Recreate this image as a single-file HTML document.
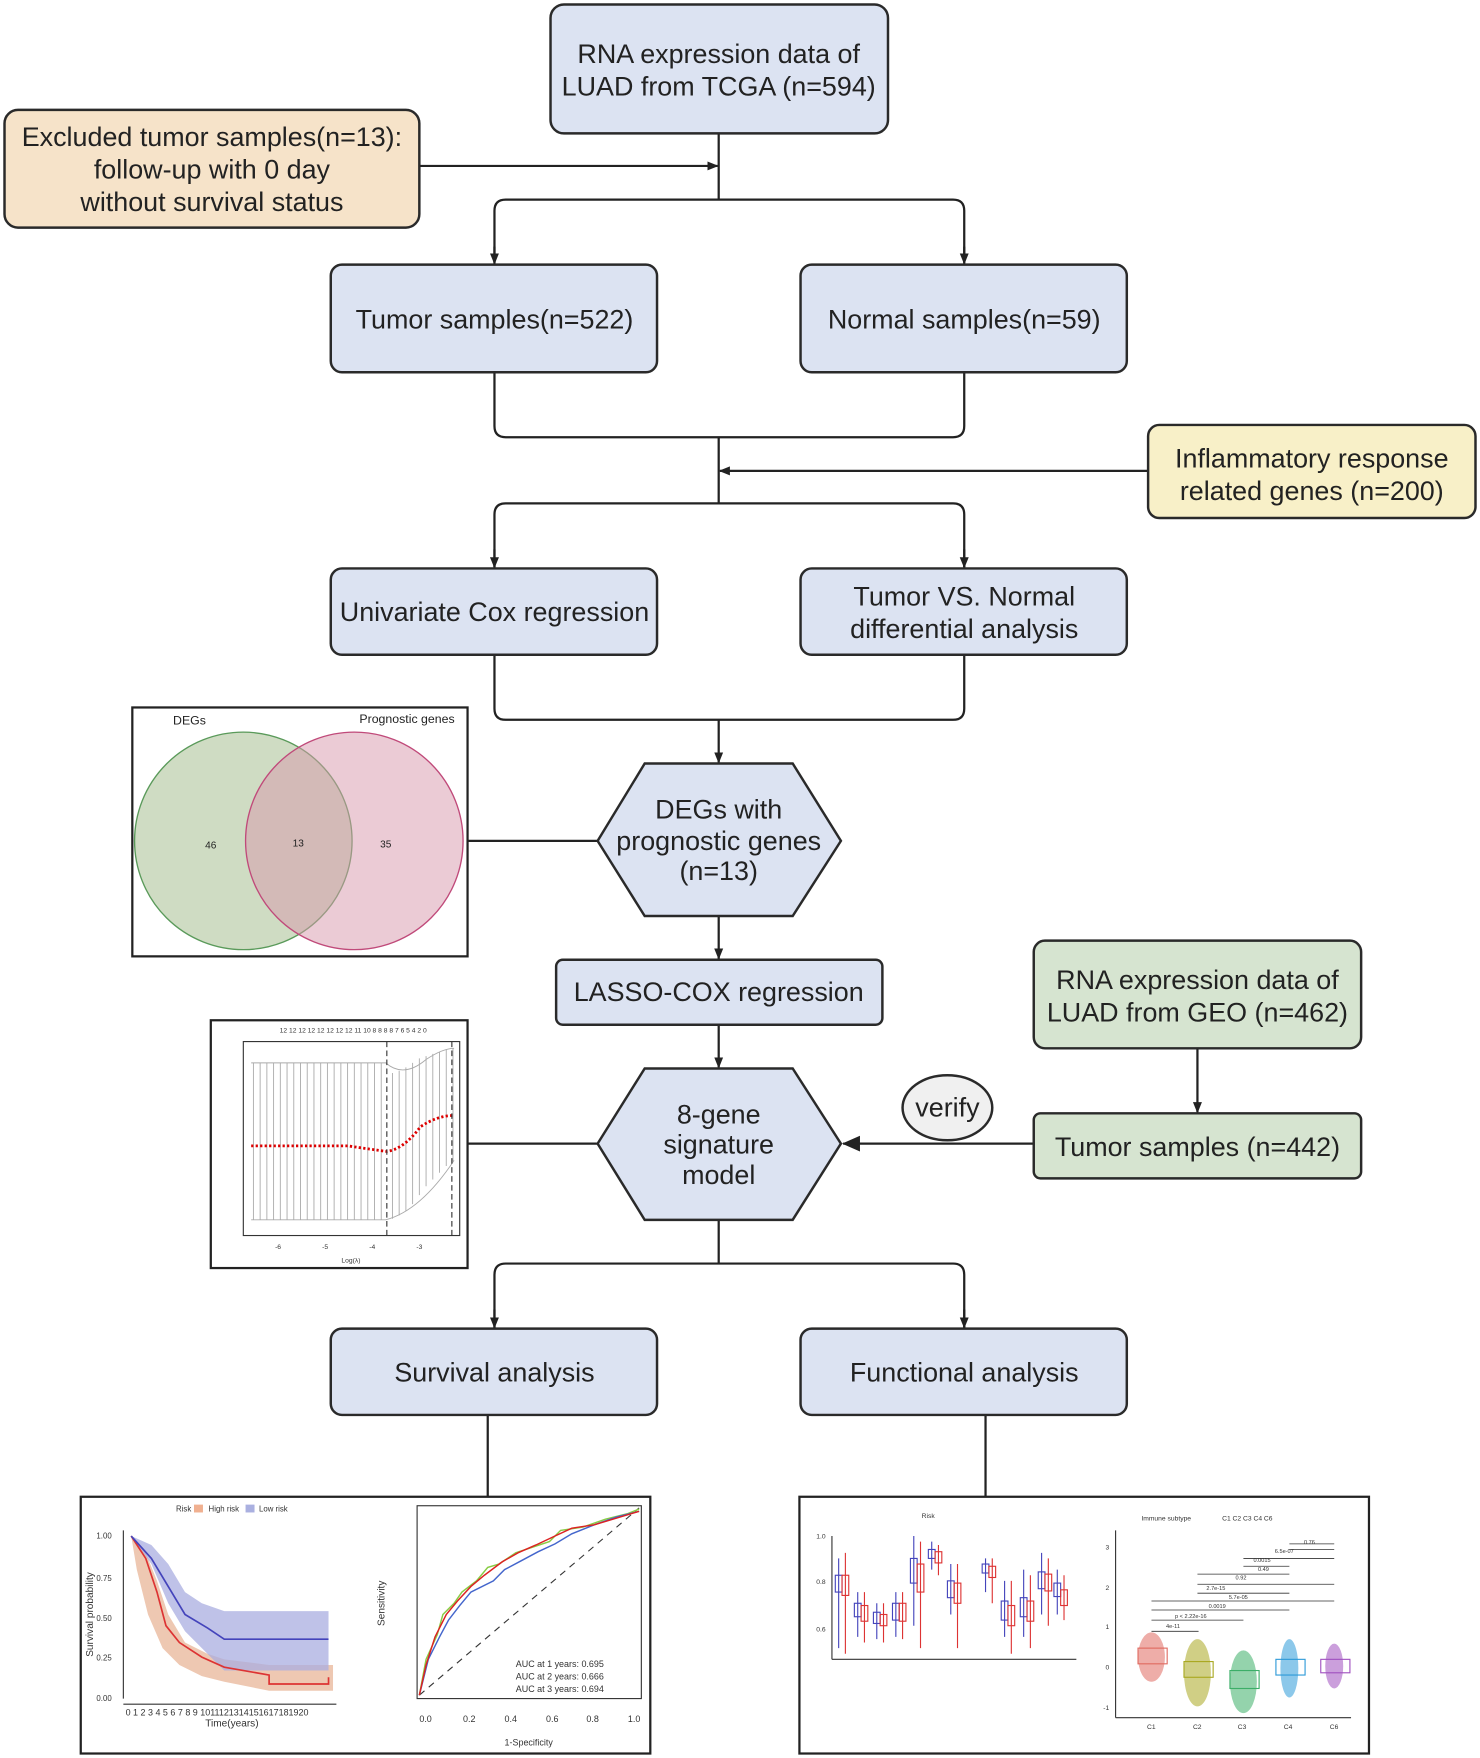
<!DOCTYPE html>
<html><head><meta charset="utf-8"><style>
html,body{margin:0;padding:0;background:#fff;}
svg{display:block;}
text{font-family:"Liberation Sans",sans-serif;}
</style></head><body>
<svg width="1480" height="1758" viewBox="0 0 1320 1568" xmlns="http://www.w3.org/2000/svg">
<defs>
<marker id="a" markerWidth="10" markerHeight="10" refX="9" refY="5" orient="auto" markerUnits="userSpaceOnUse"><path d="M0,1 L10,5 L0,9 Z" fill="#222"/></marker>
<marker id="b" markerWidth="16" markerHeight="16" refX="15" refY="8" orient="auto" markerUnits="userSpaceOnUse"><path d="M0,1 L16,8 L0,15 Z" fill="#222"/></marker>
</defs>
<rect width="1320" height="1568" fill="#fff"/>
<g stroke="#222" stroke-width="2" fill="none">
<line x1="641" y1="119" x2="641" y2="178"/>
<line x1="374" y1="148" x2="640" y2="148" marker-end="url(#a)"/>
<path d="M441,234 V188 Q441,178 451,178 H850 Q860,178 860,188 V234" />
<line x1="441" y1="220" x2="441" y2="235" marker-end="url(#a)"/>
<line x1="860" y1="220" x2="860" y2="235" marker-end="url(#a)"/>
<path d="M441,332 V380 Q441,390 451,390 H850 Q860,390 860,380 V332"/>
<line x1="641" y1="390" x2="641" y2="449"/>
<line x1="1024" y1="420" x2="642" y2="420" marker-end="url(#a)"/>
<path d="M441,506 V459 Q441,449 451,449 H850 Q860,449 860,459 V506"/>
<line x1="441" y1="490" x2="441" y2="506" marker-end="url(#a)"/>
<line x1="860" y1="490" x2="860" y2="506" marker-end="url(#a)"/>
<path d="M441,584 V632 Q441,642 451,642 H850 Q860,642 860,632 V584"/>
<line x1="641" y1="642" x2="641" y2="680" marker-end="url(#a)"/>
<line x1="417" y1="750" x2="533" y2="750"/>
<line x1="641" y1="817" x2="641" y2="855" marker-end="url(#a)"/>
<line x1="641" y1="914" x2="641" y2="952" marker-end="url(#a)"/>
<line x1="417" y1="1020" x2="533" y2="1020"/>
<line x1="1068" y1="935" x2="1068" y2="992" marker-end="url(#a)"/>
<line x1="922" y1="1020" x2="752" y2="1020" marker-end="url(#b)"/>
<line x1="641" y1="1088" x2="641" y2="1127"/>
<path d="M441,1184 V1137 Q441,1127 451,1127 H850 Q860,1127 860,1137 V1184"/>
<line x1="441" y1="1168" x2="441" y2="1184" marker-end="url(#a)"/>
<line x1="860" y1="1168" x2="860" y2="1184" marker-end="url(#a)"/>
<line x1="435" y1="1262" x2="435" y2="1335"/>
<line x1="879" y1="1262" x2="879" y2="1335"/>
</g>
<g stroke="#2a2a2a" stroke-width="2.2">
<rect x="491" y="4" width="301" height="115" rx="12" fill="#dce3f2"/>
<rect x="4" y="98" width="370" height="105" rx="12" fill="#f6e3c9"/>
<rect x="295" y="236" width="291" height="96" rx="10" fill="#dce3f2"/>
<rect x="714" y="236" width="291" height="96" rx="10" fill="#dce3f2"/>
<rect x="1024" y="379" width="292" height="83" rx="10" fill="#f8f0c8"/>
<rect x="295" y="507" width="291" height="77" rx="10" fill="#dce3f2"/>
<rect x="714" y="507" width="291" height="77" rx="10" fill="#dce3f2"/>
<polygon points="533,750 575,681 707,681 750,750 707,817 575,817" fill="#dce3f2"/>
<rect x="496" y="856" width="291" height="58" rx="6" fill="#dce3f2"/>
<polygon points="533,1020 575,953 707,953 750,1020 707,1088 575,1088" fill="#dce3f2"/>
<rect x="922" y="839" width="292" height="96" rx="10" fill="#d6e4d0"/>
<rect x="922" y="993" width="292" height="58" rx="6" fill="#d6e4d0"/>
<ellipse cx="845" cy="988" rx="40" ry="29" fill="#f0f0f0"/>
<rect x="295" y="1185" width="291" height="77" rx="10" fill="#dce3f2"/>
<rect x="714" y="1185" width="291" height="77" rx="10" fill="#dce3f2"/>
</g>
<g fill="#222" font-size="24" text-anchor="middle">
<text x="641" y="56">RNA expression data of</text>
<text x="641" y="85">LUAD from TCGA (n=594)</text>
<text x="189" y="130">Excluded tumor samples(n=13):</text>
<text x="189" y="159">follow-up with 0 day</text>
<text x="189" y="188">without survival status</text>
<text x="441" y="293">Tumor samples(n=522)</text>
<text x="860" y="293">Normal samples(n=59)</text>
<text x="1170" y="417">Inflammatory response</text>
<text x="1170" y="446">related genes (n=200)</text>
<text x="441" y="554">Univariate Cox regression</text>
<text x="860" y="540">Tumor VS. Normal</text>
<text x="860" y="569">differential analysis</text>
<text x="641" y="730">DEGs with</text>
<text x="641" y="758">prognostic genes</text>
<text x="641" y="785">(n=13)</text>
<text x="641" y="893">LASSO-COX regression</text>
<text x="641" y="1002">8-gene</text>
<text x="641" y="1029">signature</text>
<text x="641" y="1056">model</text>
<text x="1068" y="882">RNA expression data of</text>
<text x="1068" y="911">LUAD from GEO (n=462)</text>
<text x="1068" y="1031">Tumor samples (n=442)</text>
<text x="845" y="996">verify</text>
<text x="441" y="1232">Survival analysis</text>
<text x="860" y="1232">Functional analysis</text>
</g>
<!-- Venn -->
<rect x="118" y="631" width="299" height="222" fill="#fff" stroke="#222" stroke-width="2"/>
<circle cx="217" cy="750" r="97" fill="#a7c091" fill-opacity="0.55" stroke="#5a9a5a" stroke-width="1.2"/>
<circle cx="316" cy="750" r="97" fill="#d898ac" fill-opacity="0.5" stroke="#c04a7a" stroke-width="1.2"/>
<g font-size="11" fill="#222" text-anchor="middle">
<text x="169" y="646">DEGs</text><text x="363" y="645">Prognostic genes</text>
<text x="188" y="757" font-size="9">46</text><text x="266" y="755" font-size="9">13</text><text x="344" y="756" font-size="9">35</text>
</g>
<!-- LASSO plot -->
<rect x="188" y="910" width="229" height="221" fill="#fff" stroke="#222" stroke-width="2"/>
<rect x="217" y="929" width="193" height="173" fill="none" stroke="#333" stroke-width="1"/>
<g stroke="#aaa" stroke-width="0.8" fill="none">
<path d="M224,948 H344 Q360,962 380,945 Q395,935 405,935"/>
<path d="M224,1088 H344 Q375,1080 405,1035"/>
<path d="M226,948V1088 M232,948V1088 M238,948V1088 M244,948V1088 M250,948V1088 M256,948V1088 M262,948V1088 M268,948V1088 M274,948V1088 M280,948V1088 M286,948V1088 M292,948V1088 M298,948V1088 M304,948V1088 M310,948V1088 M316,948V1088 M322,948V1088 M328,948V1088 M334,948V1088 M340,948V1088 M350,957V1087 M356,955V1084 M362,952V1080 M368,948V1074 M374,944V1066 M380,942V1058 M386,940V1052 M392,938V1046 M398,936V1040 M404,935V1036"/>
</g>
<path d="M224,1022 H310 Q330,1025 345,1027 Q360,1025 375,1005 Q390,995 404,995" stroke="#d00" stroke-width="2.5" stroke-dasharray="2,2" fill="none"/>
<line x1="345" y1="929" x2="345" y2="1102" stroke="#333" stroke-dasharray="5,3" stroke-width="1"/>
<line x1="403" y1="929" x2="403" y2="1102" stroke="#333" stroke-dasharray="5,3" stroke-width="1"/>
<g font-size="6" fill="#333" text-anchor="middle">
<text x="315" y="921">12 12 12 12 12 12 12 12 11 10 8 8 8 8 7 6 5 4 2 0</text>
<text x="248" y="1114">-6</text><text x="290" y="1114">-5</text><text x="332" y="1114">-4</text><text x="374" y="1114">-3</text>
<text x="313" y="1126">Log(λ)</text>
</g>
<!-- Survival panel -->
<rect x="72" y="1335" width="508" height="229" fill="#fff" stroke="#222" stroke-width="2"/>
<g font-size="7" fill="#333">
<text x="157" y="1348">Risk</text><rect x="173" y="1342" width="8" height="7" fill="#f0b090"/><text x="186" y="1348">High risk</text>
<rect x="219" y="1342" width="8" height="7" fill="#aab0e0"/><text x="231" y="1348">Low risk</text>
<text x="86" y="1372">1.00</text><text x="86" y="1410">0.75</text><text x="86" y="1446">0.50</text><text x="86" y="1481">0.25</text><text x="86" y="1517">0.00</text>
<text x="112" y="1530" font-size="8">0 1 2 3 4 5 6 7 8 9 1011121314151617181920</text>
<text x="183" y="1540" font-size="9">Time(years)</text>
</g>
<text x="83" y="1440" font-size="9" fill="#333" transform="rotate(-90 83 1440)" text-anchor="middle">Survival probability</text>
<line x1="110" y1="1365" x2="110" y2="1515" stroke="#333"/><line x1="110" y1="1520" x2="300" y2="1520" stroke="#333"/>
<path d="M117,1370 L130,1385 L140,1410 L150,1440 L165,1465 L185,1475 L200,1480 L240,1485 L297,1485 L297,1508 L240,1508 L200,1500 L180,1495 L160,1485 L145,1470 L132,1440 L122,1400 Z" fill="#e8b598" opacity="0.75"/>
<path d="M117,1370 L135,1378 L150,1395 L165,1420 L180,1430 L200,1437 L293,1437 L293,1490 L200,1490 L190,1480 L180,1470 L165,1455 L150,1430 L135,1395 Z" fill="#a9aee0" opacity="0.75"/>
<path d="M117,1370 L130,1390 L140,1420 L148,1450 L160,1465 L180,1478 L200,1487 L240,1494 L240,1502 L293,1502 L293,1496" fill="none" stroke="#d33" stroke-width="1.5"/>
<path d="M117,1370 L135,1390 L150,1415 L165,1440 L185,1452 L200,1462 L293,1462" fill="none" stroke="#44b" stroke-width="1.5"/>
<rect x="372" y="1343" width="200" height="172" fill="none" stroke="#333"/>
<line x1="374" y1="1512" x2="570" y2="1345" stroke="#333" stroke-dasharray="6,5"/>
<path d="M374,1512 L380,1480 L390,1458 L395,1440 L405,1430 L412,1420 L425,1410 L435,1398 L445,1395 L460,1385 L475,1380 L490,1375 L500,1365 L520,1362 L540,1355 L560,1350 L570,1346" fill="none" stroke="#8c4" stroke-width="1.3"/>
<path d="M374,1512 L382,1480 L392,1460 L400,1445 L410,1432 L420,1420 L440,1410 L450,1400 L465,1392 L480,1384 L495,1377 L510,1368 L530,1360 L550,1353 L570,1348" fill="none" stroke="#46c" stroke-width="1.3"/>
<path d="M374,1512 L380,1485 L388,1460 L398,1440 L408,1428 L420,1415 L432,1405 L448,1393 L462,1385 L478,1378 L495,1370 L510,1363 L530,1360 L550,1354 L570,1348" fill="none" stroke="#d22" stroke-width="1.3"/>
<g font-size="8" fill="#333">
<text x="460" y="1487">AUC at 1 years: 0.695</text><text x="460" y="1498">AUC at 2 years: 0.666</text><text x="460" y="1509">AUC at 3 years: 0.694</text>
<text x="374" y="1536">0.0</text><text x="413" y="1536">0.2</text><text x="450" y="1536">0.4</text><text x="487" y="1536">0.6</text><text x="523" y="1536">0.8</text><text x="560" y="1536">1.0</text>
<text x="450" y="1557">1-Specificity</text>
</g>
<text x="343" y="1430" font-size="9" fill="#333" transform="rotate(-90 343 1430)" text-anchor="middle">Sensitivity</text>
<!-- Functional panel -->
<rect x="713" y="1335" width="508" height="229" fill="#fff" stroke="#222" stroke-width="2"/>
<line x1="742" y1="1370" x2="742" y2="1480" stroke="#333"/><line x1="742" y1="1480" x2="960" y2="1480" stroke="#333"/>
<g stroke="#44b" fill="none" stroke-width="1">
<path d="M748,1390V1470 M765,1420V1460 M782,1430V1462 M799,1420V1460 M815,1370V1450 M831,1375V1400 M848,1395V1440 M879,1390V1420 M896,1410V1460 M913,1400V1460 M929,1385V1440 M943,1400V1440"/>
<rect x="745" y="1405" width="6" height="15"/><rect x="762" y="1430" width="6" height="12"/><rect x="779" y="1438" width="6" height="10"/><rect x="796" y="1430" width="6" height="15"/><rect x="812" y="1390" width="6" height="22"/><rect x="828" y="1382" width="6" height="8"/><rect x="845" y="1410" width="6" height="15"/><rect x="876" y="1395" width="6" height="8"/><rect x="893" y="1428" width="6" height="17"/><rect x="910" y="1425" width="6" height="17"/><rect x="926" y="1402" width="6" height="15"/><rect x="940" y="1412" width="6" height="12"/>
</g>
<g stroke="#d33" fill="none" stroke-width="1">
<path d="M754,1385V1475 M771,1420V1465 M788,1430V1465 M805,1420V1462 M821,1375V1470 M837,1378V1405 M854,1395V1470 M885,1390V1430 M902,1410V1475 M919,1405V1470 M935,1390V1450 M949,1405V1445"/>
<rect x="751" y="1405" width="6" height="18"/><rect x="768" y="1432" width="6" height="14"/><rect x="785" y="1440" width="6" height="10"/><rect x="802" y="1430" width="6" height="16"/><rect x="818" y="1395" width="6" height="25"/><rect x="834" y="1384" width="6" height="10"/><rect x="851" y="1412" width="6" height="18"/><rect x="882" y="1397" width="6" height="10"/><rect x="899" y="1432" width="6" height="18"/><rect x="916" y="1428" width="6" height="18"/><rect x="932" y="1404" width="6" height="15"/><rect x="946" y="1418" width="6" height="14"/>
</g>
<g font-size="6" fill="#333"><text x="822" y="1354">Risk</text><text x="728" y="1372">1.0</text><text x="728" y="1413">0.8</text><text x="728" y="1455">0.6</text></g>
<g font-size="6" fill="#333"><text x="1018" y="1356">Immune subtype</text><text x="1090" y="1356">C1  C2  C3  C4  C6</text>
<text x="986" y="1382">3</text><text x="986" y="1418">2</text><text x="986" y="1453">1</text><text x="986" y="1489">0</text><text x="984" y="1525">-1</text>
<text x="1023" y="1542">C1</text><text x="1064" y="1542">C2</text><text x="1104" y="1542">C3</text><text x="1145" y="1542">C4</text><text x="1186" y="1542">C6</text></g>
<line x1="995" y1="1365" x2="995" y2="1532" stroke="#333"/><line x1="995" y1="1532" x2="1205" y2="1532" stroke="#333"/>
<g stroke="#333" stroke-width="0.7" fill="none"><path d="M1027,1455H1069 M1027,1445H1109 M1027,1436H1150 M1027,1428H1190 M1068,1421H1150 M1068,1413H1190 M1068,1404H1150 M1109,1397H1150 M1109,1390H1190 M1150,1382H1190 M1150,1377H1190"/></g>
<g font-size="5" fill="#333"><text x="1040" y="1452">4e-11</text><text x="1048" y="1443">p &lt; 2.22e-16</text><text x="1078" y="1434">0.0019</text><text x="1096" y="1426">5.7e-05</text><text x="1076" y="1418">2.7e-15</text><text x="1102" y="1409">0.92</text><text x="1122" y="1401">0.49</text><text x="1118" y="1393">0.0015</text><text x="1137" y="1385">6.5e-07</text><text x="1163" y="1377">0.76</text></g>
<g fill-opacity="0.55">
<ellipse cx="1027" cy="1478" rx="12" ry="22" fill="#e06a60"/><ellipse cx="1068" cy="1492" rx="12" ry="30" fill="#a9a820"/><ellipse cx="1109" cy="1500" rx="12" ry="28" fill="#3cae68"/><ellipse cx="1150" cy="1488" rx="8" ry="26" fill="#2e9ad8"/><ellipse cx="1190" cy="1486" rx="8" ry="20" fill="#a050c0"/></g>
<g fill="none" stroke-width="1">
<rect x="1015" y="1470" width="26" height="14" stroke="#e06a60"/><rect x="1056" y="1482" width="26" height="14" stroke="#a9a820"/><rect x="1097" y="1490" width="26" height="16" stroke="#3cae68"/><rect x="1138" y="1480" width="26" height="14" stroke="#2e9ad8"/><rect x="1178" y="1480" width="26" height="12" stroke="#a050c0"/></g>
</svg>
</body></html>
